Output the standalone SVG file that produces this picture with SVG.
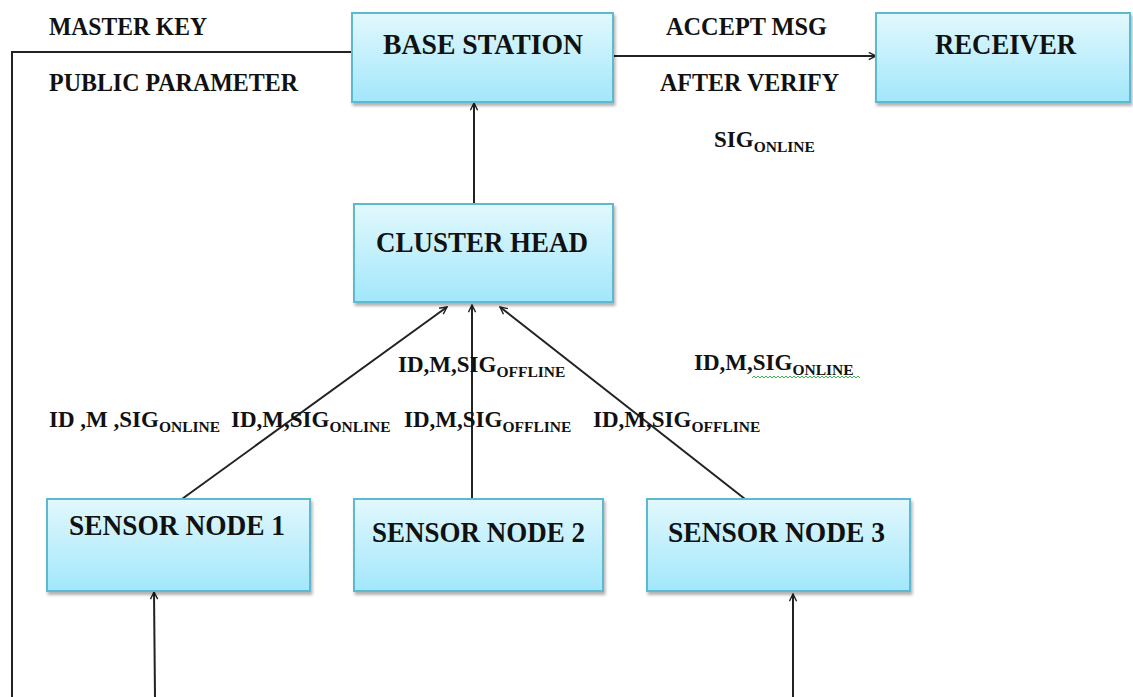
<svg xmlns="http://www.w3.org/2000/svg" width="1133" height="697" viewBox="0 0 1133 697">
<defs>
<linearGradient id="g" x1="0" y1="0" x2="0" y2="1">
<stop offset="0" stop-color="#e2f8fd"/>
<stop offset="1" stop-color="#a2e7fb"/>
</linearGradient>
<marker id="ah" viewBox="0 0 10 10" refX="9" refY="5" markerWidth="9" markerHeight="9" markerUnits="userSpaceOnUse" orient="auto">
<path d="M1,1 L9,5 L1,9" fill="none" stroke="#222" stroke-width="1.6"/>
</marker>
<filter id="sh" x="-5%" y="-5%" width="115%" height="120%">
<feDropShadow dx="1.5" dy="3" stdDeviation="1.5" flood-color="#000" flood-opacity="0.3"/>
</filter>
</defs>
<style>
.box{fill:url(#g);stroke:#5db9d0;stroke-width:2;filter:url(#sh)}
.t{font-family:"Liberation Serif","Times New Roman",serif;font-weight:bold;fill:#111}
.title{font-size:30px}
.lbl{font-size:25px}
.sm{font-size:23px}
.sub{font-size:15.5px}
.ln{stroke:#222;stroke-width:2;fill:none}
</style>
<rect width="1133" height="697" fill="#fff"/>
<g id="connectors">
<path class="ln" d="M12,697 L12,52 L352,52"/>
<line class="ln" x1="613" y1="56" x2="876" y2="56" marker-end="url(#ah)"/>
<line class="ln" x1="474" y1="241" x2="474" y2="103" marker-end="url(#ah)"/>
<line class="ln" x1="182" y1="499" x2="447" y2="307" marker-end="url(#ah)"/>
<line class="ln" x1="472" y1="499" x2="472" y2="305" marker-end="url(#ah)"/>
<line class="ln" x1="745" y1="499" x2="500" y2="307" marker-end="url(#ah)"/>
<line class="ln" x1="155" y1="697" x2="154" y2="592" marker-end="url(#ah)"/>
<line class="ln" x1="793" y1="697" x2="793" y2="594" marker-end="url(#ah)"/>
</g>
<g id="base-station">
<rect class="box" x="352" y="13" width="261" height="89"/>
<text class="t title" x="383" y="54" textLength="200" lengthAdjust="spacingAndGlyphs">BASE STATION</text>
</g>
<g id="receiver">
<rect class="box" x="876" y="13" width="254" height="89"/>
<text class="t title" x="935" y="54" textLength="141" lengthAdjust="spacingAndGlyphs">RECEIVER</text>
</g>
<g id="cluster-head">
<rect class="box" x="354" y="204" width="259" height="98"/>
<text class="t title" x="376" y="252" textLength="212" lengthAdjust="spacingAndGlyphs">CLUSTER HEAD</text>
</g>
<g id="sensor-node-1">
<rect class="box" x="47" y="499" width="263" height="92"/>
<text class="t title" x="69" y="535" textLength="216" lengthAdjust="spacingAndGlyphs">SENSOR NODE 1</text>
</g>
<g id="sensor-node-2">
<rect class="box" x="354" y="499" width="249" height="92"/>
<text class="t title" x="372" y="542" textLength="213" lengthAdjust="spacingAndGlyphs">SENSOR NODE 2</text>
</g>
<g id="sensor-node-3">
<rect class="box" x="647" y="499" width="263" height="92"/>
<text class="t title" x="668" y="542" textLength="217" lengthAdjust="spacingAndGlyphs">SENSOR NODE 3</text>
</g>
<g id="labels">
<text class="t lbl" x="49" y="35" textLength="158" lengthAdjust="spacingAndGlyphs">MASTER KEY</text>
<text class="t lbl" x="49" y="91" textLength="249" lengthAdjust="spacingAndGlyphs">PUBLIC PARAMETER</text>
<text class="t lbl" x="666" y="35" textLength="161" lengthAdjust="spacingAndGlyphs">ACCEPT MSG</text>
<text class="t lbl" x="660" y="91" textLength="179" lengthAdjust="spacingAndGlyphs">AFTER VERIFY</text>
<text class="t sm" x="714" y="147">SIG<tspan class="sub" dy="5">ONLINE</tspan></text>
<text class="t sm" x="398" y="372">ID,M,SIG<tspan class="sub" dy="5">OFFLINE</tspan></text>
<text class="t sm" x="694" y="370">ID,M,SIG<tspan class="sub" dy="5">ONLINE</tspan></text>
<text class="t sm" x="49" y="427">ID ,M ,SIG<tspan class="sub" dy="5">ONLINE</tspan></text>
<text class="t sm" x="231" y="427">ID,M,SIG<tspan class="sub" dy="5">ONLINE</tspan></text>
<text class="t sm" x="404" y="427">ID,M,SIG<tspan class="sub" dy="5">OFFLINE</tspan></text>
<text class="t sm" x="593" y="427">ID,M,SIG<tspan class="sub" dy="5">OFFLINE</tspan></text>
</g>
<path d="M752,378 l2,-2 l2,2 l2,-2 l2,2 l2,-2 l2,2 l2,-2 l2,2 l2,-2 l2,2 l2,-2 l2,2 l2,-2 l2,2 l2,-2 l2,2 l2,-2 l2,2 l2,-2 l2,2 l2,-2 l2,2 l2,-2 l2,2 l2,-2 l2,2 l2,-2 l2,2 l2,-2 l2,2 l2,-2 l2,2 l2,-2 l2,2 l2,-2 l2,2 l2,-2 l2,2 l2,-2 l2,2 l2,-2 l2,2 l2,-2 l2,2 l2,-2 l2,2 l2,-2 l2,2 l2,-2 l2,2 l2,-2 l2,2 l2,-2 l2,2" fill="none" stroke="#3cb44b" stroke-width="1"/>
</svg>
